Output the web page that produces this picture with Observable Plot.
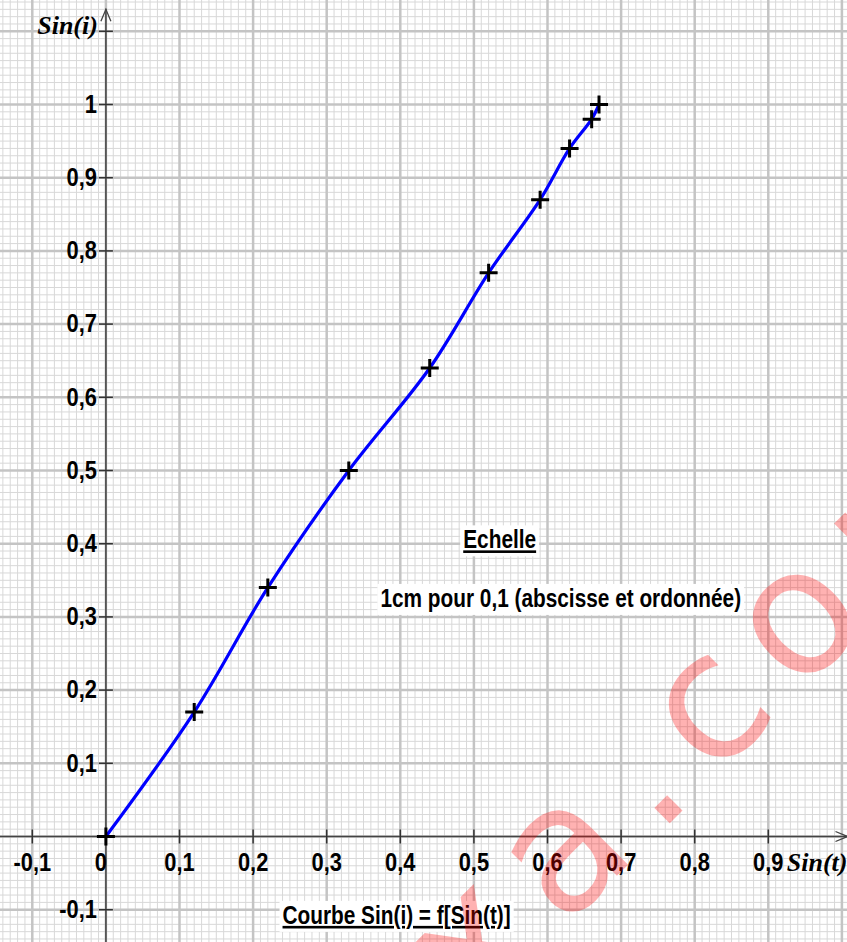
<!DOCTYPE html>
<html><head><meta charset="utf-8">
<script src="https://cdn.jsdelivr.net/npm/d3@7"></script>
<script src="https://cdn.jsdelivr.net/npm/@observablehq/plot@0.6"></script>
<style>body{margin:0;background:#fff;} svg{display:block;}</style>
</head><body><div id="chart"></div>
<script>
// ---- data ----
const sinT = [0, 0.12, 0.22, 0.33, 0.44, 0.52, 0.59, 0.63, 0.66, 0.67];
const sinI = [0, 0.17, 0.34, 0.50, 0.64, 0.77, 0.87, 0.94, 0.98, 1.00];
const xTickValues = [-0.1, 0.1, 0.2, 0.3, 0.4, 0.5, 0.6, 0.7, 0.8, 0.9];
const xTickLabels = ["-0,1", "0,1", "0,2", "0,3", "0,4", "0,5", "0,6", "0,7", "0,8", "0,9"];
const yTickValues = [-0.1, 0.1, 0.2, 0.3, 0.4, 0.5, 0.6, 0.7, 0.8, 0.9, 1.0, 1.1];
const yLabelValues = [-0.1, 0.1, 0.2, 0.3, 0.4, 0.5, 0.6, 0.7, 0.8, 0.9, 1.0];
const yTickLabels = ["-0,1", "0,1", "0,2", "0,3", "0,4", "0,5", "0,6", "0,7", "0,8", "0,9", "1"];
const originLabel = ["0"];
const xAxisTitle = "Sin(t)";
const yAxisTitle = "Sin(i)";
const notes = [
  {x: 0.535, y: 0.405, text: "Echelle", underline: true},
  {x: 0.618, y: 0.325, text: "1cm pour 0,1 (abscisse et ordonnée)", underline: false},
  {x: 0.395, y: -0.108, text: "Courbe Sin(i) = f[Sin(t)]", underline: true}
];
const watermarkParts = ["sujetexa", ".com"];
const watermarkAt = {x: 0.748, y: 0.0};

// ---- layout ----
const W = 847, H = 942;
const X0 = 105.4, Y0 = 836, PX = 736, PY = 732;
const xDomain = [-X0 / PX, (W - X0) / PX];
const yDomain = [(Y0 - H) / PY, Y0 / PY];
const yAxisTop = 1.13;

const points = sinT.map((x, i) => ({x, y: sinI[i]}));
const minorX = d3.range(-15, 102).map(i => i / 100);
const minorY = d3.range(-15, 116).map(i => i / 100);
const majorX = d3.range(-1, 11).map(i => i / 10);
const majorY = d3.range(-1, 12).map(i => i / 10);

const plusSym = {draw(ctx, size) {const r = Math.sqrt(size / Math.PI); ctx.moveTo(-r, 0); ctx.lineTo(r, 0); ctx.moveTo(0, -r); ctx.lineTo(0, r);}};
const vTick = {draw(ctx, size) {const r = Math.sqrt(size / Math.PI); ctx.moveTo(0, -r); ctx.lineTo(0, r);}};
const hTick = {draw(ctx, size) {const r = Math.sqrt(size / Math.PI); ctx.moveTo(-r, 0); ctx.lineTo(r, 0);}};
const arrowRight = {draw(ctx) {ctx.moveTo(-12, -5); ctx.lineTo(0, 0); ctx.lineTo(-12, 5);}};
const arrowUp = {draw(ctx) {ctx.moveTo(-5, 12); ctx.lineTo(0, 0); ctx.lineTo(5, 12);}};

const sans = "'Liberation Sans', Arial, sans-serif";
const serif = "'Liberation Serif', 'Times New Roman', serif";
const labelStyle = {fontSize: 26, fontWeight: "bold", fontFamily: sans, fill: "black", className: "narrow"};
const wmStyle = {rotate: -45, lineAnchor: "bottom", fontSize: 175, fontFamily: "'DejaVu Sans', sans-serif", fill: "#ff0000", fillOpacity: 0.3, className: "wm"};

const chart = Plot.plot({
  width: W, height: H, margin: 0,
  x: {domain: xDomain, axis: null},
  y: {domain: yDomain, axis: null},
  style: {background: "white", overflow: "visible"},
  marks: [
    Plot.ruleX(minorX, {stroke: "#d8d8d8", strokeWidth: 1}),
    Plot.ruleY(minorY, {stroke: "#d8d8d8", strokeWidth: 1}),
    Plot.ruleX(majorX, {stroke: "#c4c4c4", strokeWidth: 2.5}),
    Plot.ruleY(majorY, {stroke: "#c4c4c4", strokeWidth: 2.5}),
    // axes
    Plot.ruleY([0], {stroke: "#444", strokeWidth: 1.6}),
    Plot.ruleX([0], {y1: yAxisTop, y2: yDomain[0], stroke: "#555", strokeWidth: 1.8}),
    Plot.dot([xDomain[1]], {x: d => d, y: 0, symbol: arrowRight, r: 5, stroke: "#444", strokeWidth: 1.3, fill: "none"}),
    Plot.dot([yAxisTop], {x: 0, y: d => d, symbol: arrowUp, r: 5, stroke: "#444", strokeWidth: 1.3, fill: "none"}),
    Plot.dot(xTickValues, {x: d => d, y: 0, symbol: vTick, r: 7, stroke: "#333", strokeWidth: 1.5}),
    Plot.dot(yTickValues, {x: 0, y: d => d, symbol: hTick, r: 7, stroke: "#333", strokeWidth: 1.5}),
    Plot.text(xTickValues, {x: d => d, y: 0, text: (d, i) => xTickLabels[i], dy: 26, ...labelStyle}),
    Plot.text(originLabel, {x: 0, y: 0, text: d => d, dy: 26, dx: -5, ...labelStyle}),
    Plot.text(yLabelValues, {x: 0, y: d => d, text: (d, i) => yTickLabels[i], dx: -9, textAnchor: "end", ...labelStyle}),
    Plot.text([yAxisTitle], {x: 0, y: 1.1, text: d => d, dx: -8, dy: -6, textAnchor: "end", fontSize: 26, fontWeight: "bold", fontStyle: "italic", fontFamily: serif, fill: "black"}),
    Plot.text([xAxisTitle], {x: xDomain[1], y: 0, text: d => d, dx: 0, dy: 26, textAnchor: "end", fontSize: 26, fontWeight: "bold", fontStyle: "italic", fontFamily: serif, fill: "black"}),
    // curve
    Plot.line(points, {x: "x", y: "y", stroke: "#0000ff", strokeWidth: 3.2, curve: "catmull-rom"}),
    Plot.dot(points, {x: "x", y: "y", symbol: plusSym, r: 9, stroke: "black", strokeWidth: 3, fill: "none"}),
    // notes
    Plot.text(notes, {x: "x", y: "y", text: "text", fontSize: 26, fontWeight: "bold", fontFamily: sans, fill: "black", className: "boxed"}),
    // watermark
    Plot.text([watermarkParts[0]], {x: watermarkAt.x, y: watermarkAt.y, text: d => d, textAnchor: "end", ...wmStyle}),
    Plot.text([watermarkParts[1]], {x: watermarkAt.x, y: watermarkAt.y, text: d => d, textAnchor: "start", ...wmStyle})
  ]
});
document.getElementById("chart").append(chart);

// narrow (condensed) rendering of the Arial-like bold labels
const squeeze = (t, k) => {
  const w = t.getComputedTextLength();
  t.setAttribute("textLength", (w * k).toFixed(1));
  t.setAttribute("lengthAdjust", "spacingAndGlyphs");
};
chart.querySelectorAll("g.narrow text").forEach(t => squeeze(t, 0.84));
chart.querySelectorAll("g.wm text").forEach(t => t.style.letterSpacing = "24px");

// white boxes and underlines behind the notes
chart.querySelectorAll("g.boxed text").forEach((t, i) => {
  squeeze(t, 0.8);
  if (notes[i] && notes[i].underline) t.style.textDecoration = "underline";
  const b = t.getBBox();
  const r = document.createElementNS("http://www.w3.org/2000/svg", "rect");
  r.setAttribute("x", b.x - 3);
  r.setAttribute("y", b.y + 1);
  r.setAttribute("width", b.width + 6);
  r.setAttribute("height", b.height + 1);
  r.setAttribute("fill", "white");
  if (t.getAttribute("transform")) r.setAttribute("transform", t.getAttribute("transform"));
  t.parentNode.insertBefore(r, t);
});
</script>
</body></html>
